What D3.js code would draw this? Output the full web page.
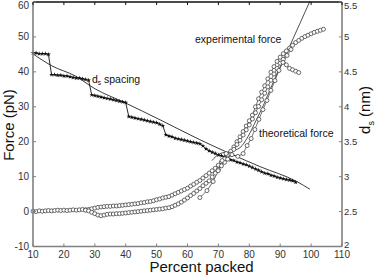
<!DOCTYPE html>
<html><head><meta charset="utf-8">
<script src="https://cdn.jsdelivr.net/npm/d3@7"></script>
<style>body{margin:0;background:#fff}svg{display:block}text{font-family:"Liberation Sans",Arial,sans-serif}</style>
</head><body><svg id="c" width="378" height="277"></svg>
<script>
// d_s spacing (right axis, nm)
const dsX = [10,11,12,13,14,15,16,17,18,19,20,21,22,23,24,25,26,27,28,29,30,31,32,33,34,35,36,37,38,39,40,41,42,43,44,45,46,47,48,49,50,51,52,53,54,55,56,57,58,59,60,61,62,63,64,65,66,67,68,69,70,71,72,73,74,75,76,77,78,79,80,81,82,83,84,85,86,87,88,89,90,91,92,93,94,95];
const dsY = [4.77,4.77,4.76,4.76,4.76,4.75,4.46,4.46,4.45,4.45,4.44,4.44,4.43,4.42,4.41,4.41,4.40,4.39,4.38,4.17,4.16,4.15,4.14,4.13,4.12,4.11,4.10,4.09,4.08,4.07,4.06,3.86,3.85,3.84,3.83,3.82,3.81,3.80,3.79,3.78,3.77,3.75,3.73,3.60,3.58,3.57,3.55,3.54,3.53,3.52,3.51,3.50,3.49,3.48,3.47,3.44,3.40,3.37,3.35,3.33,3.31,3.30,3.28,3.26,3.24,3.23,3.21,3.20,3.18,3.17,3.15,3.13,3.11,3.09,3.07,3.05,3.04,3.02,3.01,2.99,2.98,2.97,2.96,2.95,2.94,2.92];
// smooth fit of d_s
const fitX = [10,16.1,23.6,30.1,39.8,51.1,64,73.8,83.5,95.4,99.6];
const fitY = [4.757,4.586,4.443,4.257,4.057,3.814,3.529,3.329,3.143,2.929,2.82];
// experimental force, trace 1 (left axis, pN)
const e1X = d3.range(10,105);
const e1Y = [0.1,0,0.2,0.1,0.2,0.3,0.2,0.3,0.4,0.3,0.4,0.3,0.4,0.5,0.4,0.5,0.6,0.5,0.6,0.8,1.0,1.2,1.3,1.4,1.5,1.5,1.6,1.6,1.7,1.8,1.9,2.0,2.1,2.2,2.3,2.5,2.6,2.8,2.9,3.1,3.4,3.6,3.9,4.1,4.3,4.7,5.1,5.5,5.9,6.3,6.7,7.3,7.8,8.4,8.9,9.6,10.3,11.0,11.7,12.4,13.3,14.2,15.1,16.2,17.3,18.5,20.0,21.4,22.9,24.5,26.0,27.6,30.0,32.3,34.2,36.0,38.0,39.9,41.5,43.0,44.2,45.2,46.0,46.8,47.6,48.4,49.0,49.6,50.1,50.5,50.9,51.3,51.6,51.9,52.2];
// experimental force, trace 2
const e2X = d3.range(27,97);
const e2Y = [0.4,0.2,-0.2,-0.6,-1.0,-1.2,-1.0,-0.8,-0.7,-0.7,-0.6,-0.6,-0.5,-0.4,-0.3,-0.2,-0.1,0.0,0.1,0.2,0.3,0.4,0.5,0.6,0.7,0.8,1.0,1.1,1.4,1.8,2.2,2.7,3.3,3.9,4.6,5.2,5.9,6.6,7.4,8.1,8.8,9.9,11.0,12.0,13.1,14.1,15.0,16.4,17.8,19.2,20.4,21.9,23.4,24.8,26.5,28.3,30.1,32.0,33.9,35.7,37.6,39.4,41.0,42.5,43.6,42.0,41.0,40.6,40.2,39.8];
// theoretical force (sparse markers)
const thX = [64.0,66.3,68.3,69.9,71.2,72.5,74.4,76.3,78.0,79.3,80.6,81.8,83.1,84.4,85.7,87.0,88.3,89.6,90.9,92.2,93.5];
const thY = [4.0,6.0,8.6,11.7,14.6,16.6,16.3,15.8,16.6,18.9,20.9,23.5,26.4,29.2,31.8,34.7,37.5,40.4,42.7,44.7,46.4];
// theoretical curve (line only)
const tlX = [67.9,70.5,73.8,77.0,79.6,82.2,84.8,87.3,89.9,93.2,96.4,99.6];
const tlY = [14.6,16.6,17.2,18.3,21.5,26.1,30.9,36.1,41.3,47.6,53.9,60.2];
const xTicks = [10,20,30,40,50,60,70,80,90,100,110];
const yTicks = [-10,0,10,20,30,40,50,60];
const y2Ticks = [2,2.5,3,3.5,4,4.5,5,5.5];

const svg = d3.select("#c");
const L=33,R=342,T=2,B=246.5;
const x = d3.scaleLinear().domain([10,110]).range([L,R]);
const y = d3.scaleLinear().domain([-10,60]).range([B,T]);
const y2 = d3.scaleLinear().domain([2,5.5]).range([B,T]);
const zip=(a,b)=>a.map((v,i)=>[v,b[i]]);

const gP = svg.append("g");
// ds fit
gP.append("path").datum(zip(fitX,fitY)).attr("fill","none").attr("stroke","#222").attr("stroke-width",0.9)
  .attr("d",d3.line().x(d=>x(d[0])).y(d=>y2(d[1])).curve(d3.curveMonotoneX));
// ds data line
gP.append("path").datum(zip(dsX,dsY)).attr("fill","none").attr("stroke","#111").attr("stroke-width",0.9)
  .attr("d",d3.line().x(d=>x(d[0])).y(d=>y2(d[1])));
gP.selectAll(".st").data(zip(dsX,dsY)).join("path")
  .attr("transform",d=>`translate(${x(d[0])},${y2(d[1])})`)
  .attr("d",d3.symbol(d3.symbolStar,7)).attr("fill","#111");

const fl = d3.line().x(d=>x(d[0])).y(d=>y(d[1]));
// theoretical line
gP.append("path").datum(zip(tlX,tlY)).attr("fill","none").attr("stroke","#222").attr("stroke-width",0.8)
  .attr("d",fl.curve(d3.curveMonotoneX));
const fl2 = d3.line().x(d=>x(d[0])).y(d=>y(d[1]));
[[e1X,e1Y],[e2X,e2Y],[thX,thY]].forEach(([a,b])=>{
  gP.append("path").datum(zip(a,b)).attr("fill","none").attr("stroke","#333").attr("stroke-width",0.7).attr("d",fl2);
});
[[e1X,e1Y],[e2X,e2Y],[thX,thY]].forEach(([a,b])=>{
  gP.append("g").selectAll("circle").data(zip(a,b)).join("circle")
    .attr("cx",d=>x(d[0])).attr("cy",d=>y(d[1])).attr("r",2)
    .attr("fill","#fff").attr("stroke","#444").attr("stroke-width",0.8);
});

// axes
const ax = svg.append("g").attr("font-size",10).attr("fill","#333");
const grey="#808080";
ax.append("line").attr("x1",L).attr("x2",L).attr("y1",T).attr("y2",B).attr("stroke",grey).attr("stroke-width",1.6);
ax.append("line").attr("x1",R).attr("x2",R).attr("y1",T).attr("y2",B).attr("stroke",grey).attr("stroke-width",1.6);
ax.append("line").attr("x1",L).attr("x2",R).attr("y1",B).attr("y2",B).attr("stroke",grey).attr("stroke-width",1.6);
ax.append("line").attr("x1",L).attr("x2",R).attr("y1",T).attr("y2",T).attr("stroke","#111").attr("stroke-width",1.3);
xTicks.forEach(t=>{
  ax.append("line").attr("x1",x(t)).attr("x2",x(t)).attr("y1",B).attr("y2",B-3).attr("stroke",grey);
  ax.append("line").attr("x1",x(t)).attr("x2",x(t)).attr("y1",T).attr("y2",T+3).attr("stroke","#111");
  ax.append("text").attr("x",x(t)).attr("y",B+11).attr("text-anchor","middle").text(t);
});
yTicks.forEach(t=>{
  ax.append("line").attr("x1",L).attr("x2",L+3).attr("y1",y(t)).attr("y2",y(t)).attr("stroke",grey);
  ax.append("text").attr("x",L-4).attr("y",Math.max(y(t)+3.5,8.5)).attr("text-anchor","end").text(t);
});
y2Ticks.forEach(t=>{
  ax.append("line").attr("x1",R).attr("x2",R-3).attr("y1",y2(t)).attr("y2",y2(t)).attr("stroke",grey);
  ax.append("text").attr("x",R+2).attr("y",Math.min(Math.max(y2(t)+3.5,8.5),B+1)).attr("font-size",9.5).text(t);
});

// titles
const tc="#111";
svg.append("text").attr("x",(L+R)/2+14).attr("y",272).attr("text-anchor","middle").attr("font-size",15).attr("fill",tc).text("Percent packed");
svg.append("text").attr("transform","translate(14,125) rotate(-90)").attr("text-anchor","middle").attr("font-size",15).attr("fill",tc).text("Force (pN)");
const dl = svg.append("text").attr("transform","translate(370,110) rotate(-90)").attr("text-anchor","middle").attr("font-size",15).attr("fill",tc);
dl.append("tspan").text("d");
dl.append("tspan").attr("font-size",9).attr("dy",4).text("s");
dl.append("tspan").attr("dy",-4).text(" (nm)");

// annotations
const an = svg.append("g").attr("font-size",10.5).attr("fill","#111");
const ds = an.append("text").attr("x",92).attr("y",83);
ds.append("tspan").text("d");
ds.append("tspan").attr("font-size",6.5).attr("dy",2).text("s");
ds.append("tspan").attr("dy",-2).text(" spacing");
an.append("text").attr("x",195).attr("y",43).text("experimental force");
an.append("text").attr("x",259).attr("y",137).text("theoretical force");
</script></body></html>
